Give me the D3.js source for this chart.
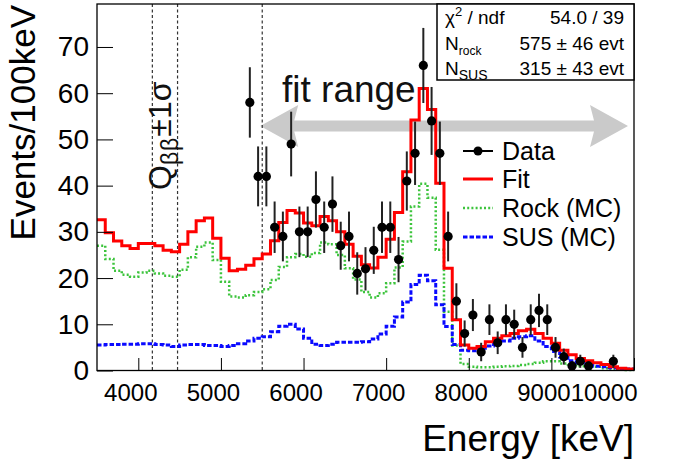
<!DOCTYPE html>
<html>
<head>
<meta charset="utf-8">
<script src="https://cdn.jsdelivr.net/npm/d3@7"></script>
<style>
  body { margin: 0; background: #fff; }
  svg { display: block; font-family: "Liberation Sans", Arial, Helvetica, sans-serif; }
</style>
</head>
<body>
<svg id="chart" width="691" height="462"></svg>
<script>
/* global d3 */

// histogram binning (keV)
var histStart = 3500;
var histStep = 100;

// fitted total, per 100 keV bin from 3500 keV
var fitCounts = [
  32.6, 29.8, 28.0, 27.0, 26.4, 27.5, 27.5, 27.0, 26.0, 25.7,
  27.3, 30.0, 32.4, 33.0, 28.6, 24.3, 21.6, 21.9, 22.8, 24.2,
  25.2, 28.1, 32.0, 34.6, 34.1, 31.9, 31.3, 33.3, 32.4, 30.0,
  27.3, 24.7, 22.9, 22.2, 24.5, 28.4, 34.2, 43.0, 54.2, 61.0,
  56.5, 40.5, 22.1, 11.0, 5.5, 4.8, 5.2, 6.2, 7.0, 7.5,
  8.0, 8.6, 8.9, 8.0, 7.0, 5.9, 4.4, 3.4, 2.6, 2.1,
  1.7, 1.3, 0.8, 0.5, 0.3
];

// rock background MC
var rockCounts = [
  27.0, 24.1, 21.6, 20.7, 20.3, 21.2, 21.6, 21.0, 20.5, 20.3,
  21.8, 24.5, 26.8, 27.7, 23.9, 19.2, 16.0, 15.8, 16.3, 17.0,
  17.6, 19.6, 22.4, 24.5, 25.2, 24.6, 25.4, 27.7, 27.3, 25.0,
  22.1, 19.7, 17.0, 15.8, 16.7, 18.9, 22.3, 27.9, 35.5, 40.4,
  37.4, 26.1, 12.7, 5.4, 1.4, 0.8, 0.7, 0.7, 0.8, 0.9,
  1.0, 1.2, 1.4, 1.7, 2.0, 2.0, 1.5, 1.3, 0.9, 0.8,
  0.8, 0.5, 0.3, 0.2, 0.1
];

// SUS background MC
var susCounts = [
  5.5, 5.6, 5.6, 5.7, 5.7, 5.8, 5.8, 5.6, 5.5, 5.2,
  5.5, 5.6, 5.6, 5.4, 5.4, 5.2, 5.4, 5.8, 6.4, 7.0,
  7.3, 8.4, 9.6, 10.0, 9.0, 7.0, 5.7, 5.4, 5.7, 6.1,
  6.1, 6.1, 6.2, 6.8, 7.9, 9.6, 11.6, 14.8, 18.6, 20.6,
  19.4, 14.2, 9.5, 5.6, 4.4, 4.3, 4.8, 5.3, 5.9, 6.4,
  7.0, 7.3, 7.5, 6.4, 5.2, 4.1, 2.9, 2.1, 1.7, 1.3,
  0.9, 0.8, 0.6, 0.4, 0.3
];

// measured data (bin centre, counts)
var dataEnergy = [
  5350, 5450, 5550, 5650, 5750, 5850, 5950, 6050, 6150, 6250,
  6350, 6450, 6550, 6650, 6750, 6850, 6950, 7050, 7150, 7250,
  7350, 7450, 7550, 7650, 7750, 7850, 7950, 8050, 8150, 8250,
  8350, 8450, 8550, 8650, 8750, 8850, 8950, 9050, 9150, 9250,
  9350, 9450, 9750
];
var dataCounts = [
  58, 42, 42, 31, 29, 49, 30, 30, 37, 31,
  36, 27, 29, 21, 22, 26, 31, 31, 24, 41,
  47, 66, 54, 47, 29, 15, 8, 12, 4, 11,
  6, 11, 10, 5, 11, 13, 11, 5, 3, 1,
  2, 1, 2
];

var xTicks = [4000, 5000, 6000, 7000, 8000, 9000, 10000];
var yTicks = [0, 10, 20, 30, 40, 50, 60, 70];
var qLines = [4170, 4475];   // Qbb +- 1 sigma
var fitRange = [5500, 10000];

var statsRows = [
  { name: 'χ', sup: '2', rest: ' / ndf', value: '54.0 / 39' },
  { name: 'N', sub: 'rock', value: '575 ± 46 evt' },
  { name: 'N', sub: 'SUS', value: '315 ± 43 evt' }
];

var legendItems = [
  { label: 'Data', kind: 'data' },
  { label: 'Fit', kind: 'fit' },
  { label: 'Rock (MC)', kind: 'rock' },
  { label: 'SUS (MC)', kind: 'sus' }
];


var conf = {
  left: 97, right: 634, top: 4, bottom: 370.5,
  yMax: 79.3,
  labelSize: 24,
  styles: {
    fit: { color: '#ff0000', width: 3, dash: null },
    rock: { color: '#3cc43c', width: 2.5, dash: '2,2.2' },
    sus: { color: '#0a0aff', width: 3, dash: '4.5,2' }
  }
};

var svg = d3.select('#chart');

var x = d3.scaleLinear().domain([histStart, 10000]).range([conf.left, conf.right]);
var y = d3.scaleLinear().domain([0, conf.yMax]).range([conf.bottom, conf.top]);


function histPoints(counts) {
  var pts = counts.map(function (c, i) { return [histStart + i * histStep, c]; });
  pts.push([histStart + counts.length * histStep, counts[counts.length - 1]]);
  return pts;
}

var stepLine = d3.line()
  .x(function (d) { return x(d[0]); })
  .y(function (d) { return y(d[1]); })
  .curve(d3.curveStepAfter);


function drawArrow() {
  var x0 = x(fitRange[0]) - 2;
  var x1 = x(fitRange[1]) - 6;
  var yc = 126;
  var hs = 5.5;   // half shaft
  var hh = 21;    // half head
  var hl = 38;    // head length

  var a = [];
  a.push(['M', x0, yc].join(' '));
  a.push(['L', x0 + hl, yc - hh].join(' '));
  a.push(['L', x0 + hl - 4, yc - hs].join(' '));
  a.push(['L', x1 - hl + 4, yc - hs].join(' '));
  a.push(['L', x1 - hl, yc - hh].join(' '));
  a.push(['L', x1, yc].join(' '));
  a.push(['L', x1 - hl, yc + hh].join(' '));
  a.push(['L', x1 - hl + 4, yc + hs].join(' '));
  a.push(['L', x0 + hl - 4, yc + hs].join(' '));
  a.push(['L', x0 + hl, yc + hh].join(' '));
  a.push('Z');

  svg.append('path')
    .attr('d', a.join(''))
    .style('fill', '#cacaca');

  svg.append('text')
    .attr('x', 282)
    .attr('y', 102)
    .style('font-size', '37px')
    .style('fill', '#111')
    .text('fit range');
}


function drawHistograms() {
  ['rock', 'sus', 'fit'].forEach(function (k) {
    var counts = k === 'fit' ? fitCounts : (k === 'rock' ? rockCounts : susCounts);
    var st = conf.styles[k];
    svg.append('path')
      .attr('d', stepLine(histPoints(counts)))
      .style('fill', 'none')
      .style('stroke', st.color)
      .style('stroke-width', st.width)
      .style('stroke-dasharray', st.dash)
      .style('stroke-linejoin', 'miter');
  });
}


function drawData() {
  var g = svg.append('g').attr('class', 'data');
  var pts = dataEnergy.map(function (e, i) { return { e: e, n: dataCounts[i] }; });

  g.selectAll('line')
    .data(pts)
    .enter()
    .append('line')
    .attr('x1', function (d) { return x(d.e); })
    .attr('x2', function (d) { return x(d.e); })
    .attr('y1', function (d) { return y(d.n + Math.sqrt(d.n)); })
    .attr('y2', function (d) { return y(Math.max(d.n - Math.sqrt(d.n), 0)); })
    .style('stroke', '#222')
    .style('stroke-width', 2);

  g.selectAll('circle')
    .data(pts)
    .enter()
    .append('circle')
    .attr('cx', function (d) { return x(d.e); })
    .attr('cy', function (d) { return y(d.n); })
    .attr('r', 4.6)
    .style('fill', '#000');
}


function drawAxes() {
  var xMinor = d3.range(3600, 10000, 200);
  var yMinor = d3.range(0, 79, 2);

  var gx = svg.append('g').attr('transform', 'translate(0,' + conf.bottom + ')');
  gx.call(d3.axisBottom(x).tickValues(xMinor).tickSize(-6.5).tickSizeOuter(0).tickFormat(''));
  gx.call(d3.axisBottom(x).tickValues(xTicks).tickSize(-12.5).tickSizeOuter(0).tickPadding(13).tickFormat(d3.format('d')));
  gx.selectAll('.domain').remove();
  gx.selectAll('line').style('stroke', '#000');
  gx.selectAll('text')
    .style('font-size', conf.labelSize + 'px')
    .style('fill', '#000')
    .attr('dx', function (d) { return d === 10000 ? '3' : '-8'; })
    .attr('text-anchor', function (d) { return d === 10000 ? 'end' : 'middle'; })
    .attr('font-family', null);

  var gy = svg.append('g').attr('transform', 'translate(' + conf.left + ',0)');
  gy.call(d3.axisLeft(y).tickValues(yMinor).tickSize(-9).tickSizeOuter(0).tickFormat(''));
  gy.call(d3.axisLeft(y).tickValues(yTicks).tickSize(-16).tickSizeOuter(0).tickPadding(8).tickFormat(d3.format('d')));
  gy.selectAll('.domain').remove();
  gy.selectAll('line').style('stroke', '#000');
  gy.selectAll('text')
    .style('font-size', '28px')
    .style('fill', '#000')
    .attr('font-family', null);

  // frame
  svg.append('rect')
    .attr('x', conf.left)
    .attr('y', conf.top)
    .attr('width', conf.right - conf.left)
    .attr('height', conf.bottom - conf.top)
    .style('fill', 'none')
    .style('stroke', '#000')
    .style('stroke-width', 1.3);

  svg.append('text')
    .attr('x', conf.right)
    .attr('y', 451)
    .attr('text-anchor', 'end')
    .style('font-size', '37px')
    .text('Energy [keV]');

  svg.append('text')
    .attr('transform', 'translate(35,5) rotate(-90)')
    .attr('text-anchor', 'end')
    .style('font-size', '35px')
    .text('Events/100keV');
}


function drawQLines() {
  var lines = qLines.concat([fitRange[0]]);
  svg.selectAll('line.vline')
    .data(lines)
    .enter()
    .append('line')
    .attr('class', 'vline')
    .attr('x1', function (d) { return x(d); })
    .attr('x2', function (d) { return x(d); })
    .attr('y1', conf.top)
    .attr('y2', conf.bottom)
    .style('stroke', '#333')
    .style('stroke-width', 1.2)
    .style('stroke-dasharray', '3,2.5');

  var t = svg.append('text')
    .attr('transform', 'translate(171,190) rotate(-90)')
    .style('font-size', '32px')
    .style('fill', '#111');
  t.append('tspan').text('Q');
  t.append('tspan').attr('dy', 7).style('font-size', '23px').style('letter-spacing', '1px').text('ββ');
  t.append('tspan').attr('dy', -7).text('±1σ');
}


function drawStats() {
  var bx = 437, by = conf.top, bw = conf.right - 437, bh = 76;
  svg.append('rect')
    .attr('x', bx)
    .attr('y', by)
    .attr('width', bw)
    .attr('height', bh)
    .style('fill', '#fff')
    .style('stroke', '#000')
    .style('stroke-width', 1.5);

  statsRows.forEach(function (r, i) {
    var yy = 24 + i * 25.5;
    var t = svg.append('text')
      .attr('x', 445)
      .attr('y', yy)
      .style('font-size', '19px');
    t.append('tspan').text(r.name);
    if (r.sup) {
      t.append('tspan').attr('dy', -8).style('font-size', '13px').text(r.sup);
      t.append('tspan').attr('dy', 8).text(r.rest);
    }
    if (r.sub) {
      t.append('tspan').attr('dy', 5).style('font-size', i === 1 ? '12px' : '14px').text(r.sub);
    }
    svg.append('text')
      .attr('x', 624)
      .attr('y', yy)
      .attr('text-anchor', 'end')
      .style('font-size', '19px')
      .text(r.value);
  });
}


function drawLegend() {
  var x0 = 463, x1 = 493;
  var rows = [151, 179, 208, 237];

  legendItems.forEach(function (it, i) {
    var yy = rows[i];
    var st = conf.styles[it.kind];
    if (it.kind === 'data') {
      svg.append('line')
        .attr('x1', x0).attr('x2', x1).attr('y1', yy).attr('y2', yy)
        .style('stroke', '#000').style('stroke-width', 2);
      svg.append('circle')
        .attr('cx', (x0 + x1) / 2).attr('cy', yy).attr('r', 4.5)
        .style('fill', '#000');
    } else {
      svg.append('line')
        .attr('x1', x0).attr('x2', x1).attr('y1', yy).attr('y2', yy)
        .style('stroke', st.color)
        .style('stroke-width', st.width)
        .style('stroke-dasharray', st.dash);
    }
    svg.append('text')
      .attr('x', 502)
      .attr('y', yy + 9)
      .style('font-size', '25px')
      .text(it.label);
  });
}


drawArrow();
drawQLines();
drawHistograms();
drawData();
drawAxes();
drawStats();
drawLegend();
</script>
</body>
</html>
